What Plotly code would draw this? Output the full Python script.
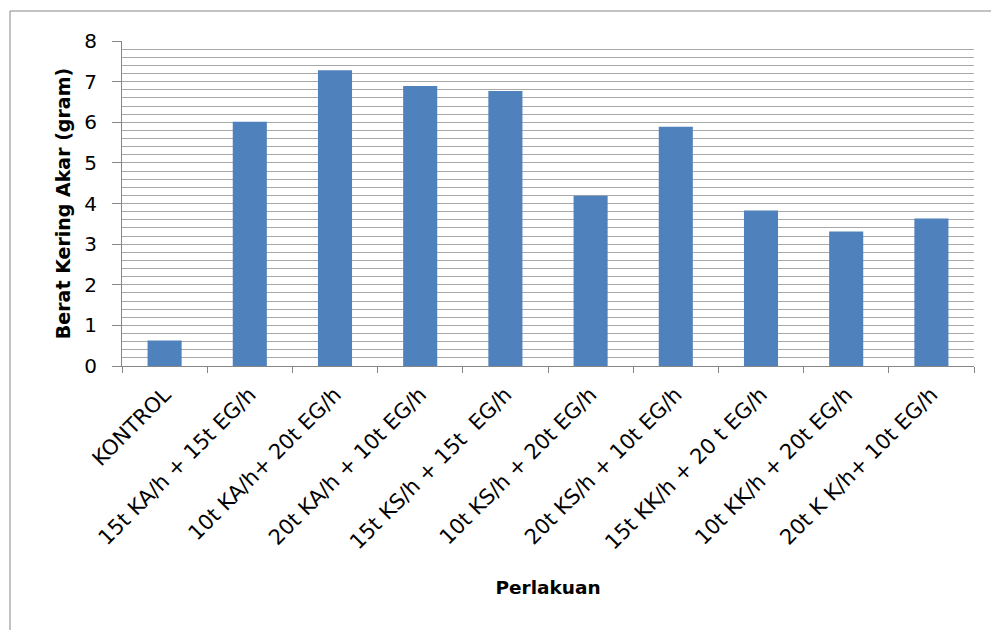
import plotly.graph_objects as go

categories = [
    "KONTROL",
    "15t KA/h + 15t EG/h",
    "10t KA/h+ 20t EG/h",
    "20t KA/h + 10t EG/h",
    "15t KS/h + 15t\u00a0 EG/h",
    "10t KS/h + 20t EG/h",
    "20t KS/h + 10t EG/h",
    "15t KK/h + 20 t EG/h",
    "10t KK/h + 20t EG/h",
    "20t K K/h+ 10t EG/h",
]
values = [0.63, 6.01, 7.28, 6.89, 6.77, 4.19, 5.89, 3.83, 3.31, 3.63]
y_ticks = [0, 1, 2, 3, 4, 5, 6, 7, 8]

W, H = 991, 630
L, R, T, B = 122, 17, 41, 264
pw, ph = W - L - R, H - T - B

FONT = "'DejaVu Sans', sans-serif"

fig = go.Figure(
    go.Bar(
        x=categories,
        y=values,
        marker=dict(color="#4F81BD", line=dict(width=0)),
    )
)

fig.update_layout(
    width=W,
    height=H,
    margin=dict(l=L, r=R, t=T, b=B, autoexpand=False),
    paper_bgcolor="white",
    plot_bgcolor="white",
    bargap=0.6,
    showlegend=False,
    font=dict(family=FONT, color="black", size=18),
)

fig.update_xaxes(
    type="category",
    tickangle=-45,
    tickson="boundaries",
    ticks="outside",
    ticklen=6,
    tickcolor="#868686",
    showline=True,
    linecolor="#868686",
    linewidth=1,
    showgrid=False,
    tickfont=dict(size=21, family=FONT),
    ticklabelstandoff=7,
    automargin=False,
    title=dict(text="<b>Perlakuan</b>", font=dict(size=18.5, family=FONT), standoff=27),
)

fig.update_yaxes(
    range=[0, 8],
    tickvals=y_ticks,
    ticks="outside",
    ticklen=9,
    tickcolor="#868686",
    showline=True,
    linecolor="#868686",
    linewidth=1,
    showgrid=True,
    gridcolor="#a8a8a8",
    gridwidth=1.3,
    minor=dict(dtick=0.2, showgrid=True, gridcolor="#a8a8a8", gridwidth=1.3, ticks=""),
    tickfont=dict(size=20, family=FONT),
    ticklabelstandoff=11,
    automargin=False,
    zeroline=False,
    title=dict(text="<b>Berat Kering Akar (gram)</b>", font=dict(size=19, family=FONT), standoff=8),
)

# outer chart frame (extends beyond the picture at right and bottom)
fig.add_shape(
    type="rect",
    xref="paper", yref="paper",
    x0=(10 - L) / pw, x1=(W + 20 - L) / pw,
    y0=-(B + 20) / ph, y1=(T + ph - 11) / ph,
    line=dict(color="#868686", width=1),
    fillcolor="rgba(0,0,0,0)",
    layer="above",
)

fig.write_html("out.html")
